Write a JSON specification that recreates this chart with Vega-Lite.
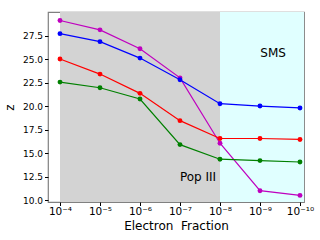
{
  "$schema": "https://vega.github.io/schema/vega-lite/v6.json",
  "width": 256,
  "height": 190,
  "autosize": "none",
  "padding": {"left": 48, "top": 12, "right": 16, "bottom": 38},
  "background": "white",
  "config": {
    "font": "DejaVu Sans",
    "view": {"stroke": "#808080", "strokeWidth": 1.2},
    "axis": {
      "grid": false,
      "domain": false,
      "tickColor": "black",
      "tickSize": 3.5,
      "labelColor": "black",
      "labelFontSize": 9,
      "labelOverlap": false,
      "labelSeparation": 0,
      "labelBound": false,
      "titleFontSize": 12,
      "titleFontWeight": "normal",
      "titleColor": "black"
    },
    "axisY": {"labelOverlap": false, "tickCount": 20},
    "axisQuantitative": {"labelOverlap": false, "tickCount": 20}
  },
  "datasets": {
    "series": [
      {"series": "magenta", "ef": 1e-4, "z": 29.1},
      {"series": "magenta", "ef": 1e-5, "z": 28.1},
      {"series": "magenta", "ef": 1e-6, "z": 26.1},
      {"series": "magenta", "ef": 1e-7, "z": 23.0},
      {"series": "magenta", "ef": 1e-8, "z": 16.05},
      {"series": "magenta", "ef": 1e-9, "z": 11.0},
      {"series": "magenta", "ef": 1e-10, "z": 10.5},
      {"series": "blue", "ef": 1e-4, "z": 27.7},
      {"series": "blue", "ef": 1e-5, "z": 26.85},
      {"series": "blue", "ef": 1e-6, "z": 25.1},
      {"series": "blue", "ef": 1e-7, "z": 22.8},
      {"series": "blue", "ef": 1e-8, "z": 20.25},
      {"series": "blue", "ef": 1e-9, "z": 20.0},
      {"series": "blue", "ef": 1e-10, "z": 19.8},
      {"series": "red", "ef": 1e-4, "z": 25.0},
      {"series": "red", "ef": 1e-5, "z": 23.4},
      {"series": "red", "ef": 1e-6, "z": 21.35},
      {"series": "red", "ef": 1e-7, "z": 18.45},
      {"series": "red", "ef": 1e-8, "z": 16.55},
      {"series": "red", "ef": 1e-9, "z": 16.55},
      {"series": "red", "ef": 1e-10, "z": 16.45},
      {"series": "green", "ef": 1e-4, "z": 22.55},
      {"series": "green", "ef": 1e-5, "z": 21.95},
      {"series": "green", "ef": 1e-6, "z": 20.75},
      {"series": "green", "ef": 1e-7, "z": 15.9},
      {"series": "green", "ef": 1e-8, "z": 14.35},
      {"series": "green", "ef": 1e-9, "z": 14.2},
      {"series": "green", "ef": 1e-10, "z": 14.05}
    ],
    "regions": [
      {"region": "Pop III", "x0": 1e-4, "x1": 1e-8},
      {"region": "SMS", "x0": 1e-8, "x1": 1e-11}
    ],
    "labels": [
      {"text": "SMS", "ef": 4.7e-10, "z": 25.65},
      {"text": "Pop III", "ef": 3.55e-8, "z": 12.45}
    ]
  },
  "layer": [
    {
      "data": {"name": "regions"},
      "transform": [{"filter": "datum.region == 'Pop III'"}],
      "mark": {"type": "rect", "fill": "#d3d3d3", "clip": true},
      "encoding": {
        "x": {
          "field": "x0",
          "type": "quantitative",
          "title": "Electron\u00a0\u00a0Fraction",
          "scale": {"type": "log", "domain": [7.94e-11, 1.995e-4], "reverse": true, "nice": false},
          "axis": {
            "values": [1e-4, 1e-5, 1e-6, 1e-7, 1e-8, 1e-9, 1e-10],
            "tickCount": 20,
            "labelExpr": "'10' + ['⁻⁴','⁻⁵','⁻⁶','⁻⁷','⁻⁸','⁻⁹','⁻¹⁰'][round(-log(datum.value)/LN10)-4]",
            "labelFontSize": 10.5,
            "labelOverlap": false,
            "labelPadding": 1,
            "titlePadding": 3
          }
        },
        "x2": {"field": "x1"}
      }
    },
    {
      "data": {"name": "regions"},
      "transform": [{"filter": "datum.region == 'SMS'"}],
      "mark": {"type": "rect", "fill": "#e0ffff", "clip": true},
      "encoding": {
        "x": {"field": "x0", "type": "quantitative"},
        "x2": {"field": "x1"}
      }
    },
    {
      "data": {"name": "series"},
      "mark": {"type": "line", "strokeWidth": 1.2, "clip": true},
      "encoding": {
        "x": {"field": "ef", "type": "quantitative"},
        "y": {
          "field": "z",
          "type": "quantitative",
          "title": "z",
          "scale": {"domain": [9.8, 30.0], "nice": false, "zero": false},
          "axis": {
            "values": [10, 12.5, 15, 17.5, 20, 22.5, 25, 27.5],
            "tickCount": 20,
            "format": ".1f",
            "labelOverlap": false,
            "labelPadding": 2,
            "titlePadding": 6,
            "titleAngle": -90
          }
        },
        "color": {
          "field": "series",
          "type": "nominal",
          "scale": {"domain": ["green", "red", "blue", "magenta"], "range": ["#008000", "#ff0000", "#0000ff", "#bf00bf"]},
          "legend": null
        },
        "order": {"field": "ef", "type": "quantitative", "sort": "descending"}
      }
    },
    {
      "data": {"name": "series"},
      "mark": {"type": "point", "filled": true, "opacity": 1, "size": 24, "clip": true},
      "encoding": {
        "x": {"field": "ef", "type": "quantitative"},
        "y": {
          "field": "z",
          "type": "quantitative",
          "axis": {
            "values": [10, 12.5, 15, 17.5, 20, 22.5, 25, 27.5],
            "tickCount": 20,
            "format": ".1f",
            "labelOverlap": false,
            "labelPadding": 2,
            "titlePadding": 6,
            "titleAngle": -90
          }
        },
        "color": {"field": "series", "type": "nominal", "legend": null}
      }
    },
    {
      "data": {"name": "labels"},
      "mark": {"type": "text", "fontSize": 12, "color": "black", "align": "center", "baseline": "middle"},
      "encoding": {
        "x": {"field": "ef", "type": "quantitative"},
        "y": {
          "field": "z",
          "type": "quantitative",
          "axis": {
            "values": [10, 12.5, 15, 17.5, 20, 22.5, 25, 27.5],
            "tickCount": 20,
            "format": ".1f",
            "labelOverlap": false,
            "labelPadding": 2,
            "titlePadding": 6,
            "titleAngle": -90
          }
        },
        "text": {"field": "text"}
      }
    }
  ]
}
